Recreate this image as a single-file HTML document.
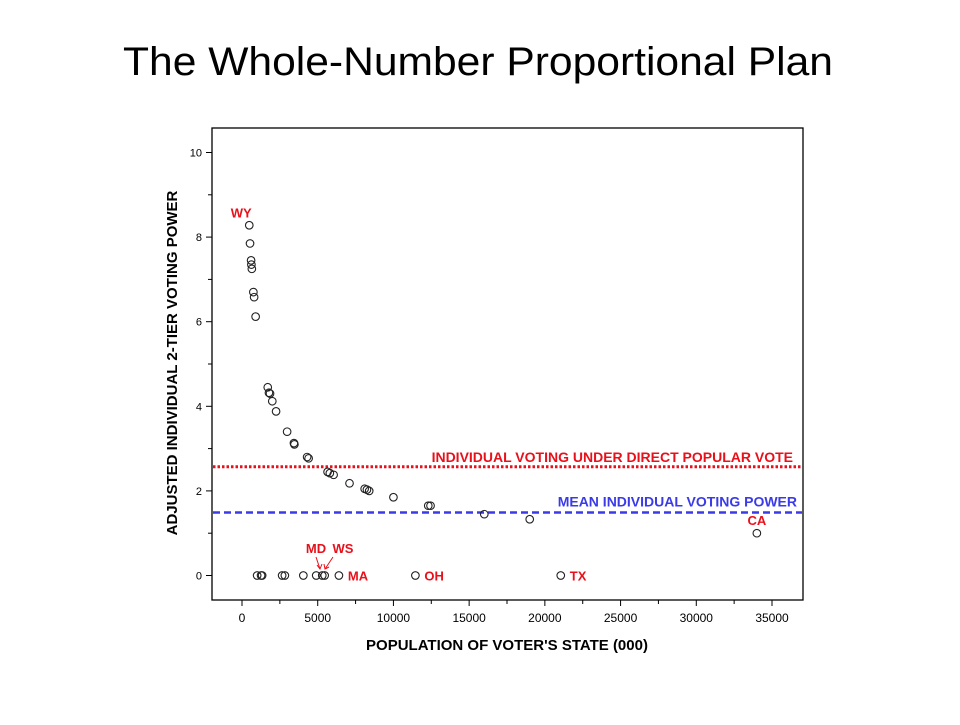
<!DOCTYPE html>
<html><head><meta charset="utf-8"><style>
body{margin:0;background:#fff;width:960px;height:720px;overflow:hidden;font-family:"Liberation Sans",sans-serif}
</style></head><body>
<svg width="960" height="720" xmlns="http://www.w3.org/2000/svg">
<text x="123" y="75" font-size="40" textLength="710" lengthAdjust="spacingAndGlyphs" fill="#000">The Whole-Number Proportional Plan</text>
<rect x="212" y="128" width="591" height="472" fill="none" stroke="#000" stroke-width="1.3"/>
<g id="axes"></g>
<g id="marks"></g>
<text x="507" y="650" text-anchor="middle" font-size="15" font-weight="bold" fill="#000">POPULATION OF VOTER'S STATE  (000)</text>
<text transform="translate(177,363) rotate(-90)" text-anchor="middle" font-size="15" font-weight="bold" fill="#000">ADJUSTED INDIVIDUAL 2-TIER VOTING POWER</text>
</svg>
<script>
const xTicks=[0,5000,10000,15000,20000,25000,30000,35000];
const yTicks=[0,2,4,6,8,10];
const popX=[480,530,600,620,650,750,800,900,1700,1780,1850,2000,2250,2980,3430,3460,4300,4400,5650,5800,6050,7100,8100,8250,8400,10000,12300,12450,16000,19000,34000,
1000,1260,1330,2650,2830,4050,4900,5300,5460,6400,11450,21050];
const powerY=[8.28,7.85,7.45,7.35,7.25,6.7,6.58,6.12,4.45,4.32,4.3,4.12,3.88,3.4,3.13,3.1,2.8,2.77,2.45,2.42,2.38,2.18,2.05,2.03,2.0,1.85,1.65,1.65,1.45,1.33,1.0,
0,0,0,0,0,0,0,0,0,0,0,0];
const directPopularVote=2.57;
const meanPower=1.49;
const stateLabels=["WY","CA","MA","OH","TX"];
const labelPop=[480,34000,6400,11450,21050];
const labelPow=[8.28,1.0,0,0,0];
const NS="http://www.w3.org/2000/svg";
const X=v=>242+v*(530/35000);
const Y=v=>575.5-v*42.3;
function mk(t,a,p){const e=document.createElementNS(NS,t);for(const k in a)e.setAttribute(k,a[k]);p.appendChild(e);return e;}
const ax=document.getElementById('axes'),mg=document.getElementById('marks');
for(let v=0;v<=35000;v+=2500){const l=mk('line',{x1:X(v),x2:X(v),y1:600,y2:v%5000==0?606:604,stroke:'#000'},ax);

}
xTicks.forEach(v=>{const t=mk('text',{x:X(v),y:622,'text-anchor':'middle','font-size':12,fill:'#000'},ax);t.textContent=v;

});
for(let v=0;v<=10;v+=1){const l=mk('line',{x1:v%2==0?206:208,x2:212,y1:Y(v),y2:Y(v),stroke:'#000'},ax);

}
yTicks.forEach(v=>{const t=mk('text',{x:202,y:Y(v)+4,'text-anchor':'end','font-size':11,fill:'#000'},ax);t.textContent=v;

});
const r=mk('line',{x1:213,x2:802,y1:Y(directPopularVote),y2:Y(directPopularVote),stroke:'#e8101a','stroke-width':3,'stroke-dasharray':'2.5 2'},mg);


const b=mk('line',{x1:213,x2:802,y1:Y(meanPower),y2:Y(meanPower),stroke:'#3a3ae8','stroke-width':2.5,'stroke-dasharray':'7 4'},mg);


const t1=mk('text',{x:793,y:Y(directPopularVote)-5,'text-anchor':'end','font-size':14,'font-weight':'bold',fill:'#e8101a'},mg);t1.textContent='INDIVIDUAL VOTING UNDER DIRECT POPULAR VOTE';


const t2=mk('text',{x:797,y:Y(meanPower)-6,'text-anchor':'end','font-size':14,'font-weight':'bold',fill:'#3a3ae8'},mg);t2.textContent='MEAN INDIVIDUAL VOTING POWER';


popX.forEach((p,i)=>{const c=mk('circle',{cx:X(p),cy:Y(powerY[i]),r:3.8,fill:'none',stroke:'#222','stroke-width':1.1},mg);

});
const off=[[-8,-8,'middle'],[0,-8,'middle'],[9,5,'start'],[9,5,'start'],[9,5,'start']];
stateLabels.forEach((s,i)=>{const t=mk('text',{x:X(labelPop[i])+off[i][0],y:Y(labelPow[i])+off[i][1],'text-anchor':off[i][2],'font-size':13,'font-weight':'bold',fill:'#e8101a'},mg);t.textContent=s;

});
const md=mk('text',{x:316,y:553,'text-anchor':'middle','font-size':13,'font-weight':'bold',fill:'#e8101a'},mg);md.textContent='MD';


const ws=mk('text',{x:343,y:553,'text-anchor':'middle','font-size':13,'font-weight':'bold',fill:'#e8101a'},mg);ws.textContent='WS';


const a1=mk('path',{d:'M316,557 L320,569 M317,565 L320,569 L322,564',stroke:'#e8101a',fill:'none','stroke-width':1},mg);


const a2=mk('path',{d:'M333,557 L325,569 M324,564 L325,569 L329,567',stroke:'#e8101a',fill:'none','stroke-width':1},mg);


</script>
</body></html>
